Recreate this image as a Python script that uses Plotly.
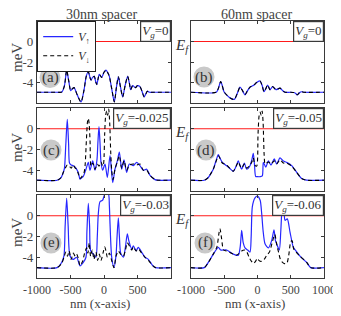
import plotly.graph_objects as go

W, H = 341, 316
BODY = 8  # default page margin of the HTML body: the figure starts 8px in from the window corner

# ---------------- data ----------------
x_ticks = [-1000, -500, 0, 500, 1000]
y_ticks = [-4, -2, 0]
col_titles = ["30nm spacer", "60nm spacer"]
panel_letters = ["(a)", "(b)", "(c)", "(d)", "(e)", "(f)"]
vg_labels = ["0", "0", "-0.025", "-0.05", "-0.03", "-0.06"]

a_x = [-1000, -700, -630, -590, -557, -525, -497, -470, -447, -400, -343, -300, -265, -234, -210, -194,
       -170, -145, -125, -109, -90, -70, -35, 0, 30, 60, 80, 115, 154, 185, 214, 245, 279, 315, 353,
       380, 398, 428, 470, 500, 537, 570, 597, 625, 647, 680, 750, 1000]
a_up = [-4.95, -4.95, -4.93, -4.3, -2.8, -3.9, -4.8, -4.6, -4.5, -5.2, -5.9, -4.8, -3.4, -2.95, -3.5,
        -3.76, -3.5, -3.4, -3.9, -4.2, -3.7, -3.2, -3.5, -3.0, -2.8, -3.1, -3.4, -4.6, -5.9, -4.5,
        -3.45, -4.4, -5.4, -4.3, -3.4, -4.1, -4.7, -4.3, -4.5, -4.3, -4.4, -4.9, -5.4, -5.1, -4.85,
        -4.95, -4.95, -4.95]
a_dn = a_up

b_x = [-1000, -620, -590, -554, -530, -504, -450, -400, -349, -300, -263, -225, -188, -150, -113, -53,
       -23, 38, 70, 98, 125, 153, 188, 228, 278, 338, 380, 414, 500, 560, 599, 630, 664, 700, 1000]
b_up = [-4.95, -4.95, -4.6, -3.9, -4.3, -4.9, -5.3, -5.55, -5.65, -5.0, -4.45, -4.8, -5.2, -4.8, -4.45,
        -4.25, -4.05, -3.85, -4.3, -4.9, -4.6, -4.25, -4.7, -4.4, -4.7, -4.55, -4.8, -4.95, -4.95,
        -5.0, -5.2, -5.0, -4.9, -4.95, -4.95]
b_dn = b_up

c_up_x = [-1000, -700, -640, -607, -590, -570, -548, -528, -515, -490, -458, -430, -408, -380, -358,
          -330, -309, -269, -234, -209, -169, -134, -105, -90, -75, -60, -45, -20, 15, 50, 90, 130,
          164, 199, 229, 264, 299, 338, 378, 438, 488, 537, 587, 637, 687, 761, 800, 1000]
c_up = [-4.96, -4.96, -4.7, -4.2, -3.8, -1.5, 0.9, -1.5, -3.3, -3.5, -3.56, -3.7, -3.9, -4.3, -4.86,
        -4.7, -4.6, -3.9, -3.24, -4.0, -3.1, -4.0, -3.0, -1.2, 0.2, -1.3, -3.2, -4.0, -3.4, -4.7,
        -2.6, -5.2, -3.9, -3.1, -2.26, -3.9, -3.0, -4.2, -3.4, -3.56, -3.24, -3.56, -4.0, -3.9,
        -4.5, -4.9, -4.96, -4.96]
c_dn_x = [-1000, -700, -640, -607, -570, -548, -518, -490, -458, -430, -408, -380, -358, -330, -300,
          -283, -262, -246, -234, -222, -208, -195, -169, -134, -100, -75, -45, -20, -5, 10, 25, 40,
          55, 70, 85, 100, 115, 135, 164, 199, 229, 264, 299, 338, 378, 438, 488, 537, 587, 637, 687,
          761, 800, 1000]
c_dn = [-4.96, -4.96, -4.7, -4.2, -3.7, -3.5, -3.6, -3.8, -3.5, -3.8, -3.9, -4.4, -4.8, -4.6, -4.3,
        -3.6, -1.0, 0.7, 1.0, 0.5, -1.2, -3.6, -3.3, -3.9, -3.4, -3.6, -3.2, -3.6, -3.3, -0.5, 1.3,
        1.7, 1.3, 1.9, 0.6, -2.2, -4.0, -4.9, -3.9, -3.2, -2.6, -3.8, -3.1, -4.0, -3.5, -3.4, -3.5,
        -3.4, -4.0, -4.0, -4.5, -4.9, -4.96, -4.96]

d_up_x = [-1000, -800, -740, -700, -665, -620, -589, -560, -529, -464, -420, -364, -320, -289, -260,
          -238, -198, -163, -113, -85, -63, -45, -27, 0, 40, 72, 88, 125, 163, 203, 253, 288, 338,
          388, 438, 514, 589, 664, 740, 1000]
d_up = [-4.96, -4.96, -4.7, -4.3, -3.9, -3.0, -2.5, -2.9, -3.24, -3.56, -3.8, -4.1, -3.6, -3.1, -3.6,
        -3.9, -3.3, -3.9, -3.56, -3.0, -2.36, -3.5, -4.6, -4.62, -4.62, -4.55, -3.24, -3.7, -3.1,
        -3.5, -2.9, -3.4, -2.8, -3.1, -3.24, -3.56, -4.2, -4.8, -4.96, -4.96]
d_dn_x = [-1000, -800, -740, -700, -665, -620, -589, -560, -529, -464, -420, -364, -320, -289, -260,
          -238, -198, -163, -113, -85, -63, -40, -12, 8, 25, 40, 55, 70, 85, 100, 115, 163, 203, 253,
          288, 338, 388, 438, 514, 589, 664, 740, 1000]
d_dn = [-4.96, -4.96, -4.7, -4.3, -3.9, -3.1, -2.6, -2.9, -3.3, -3.5, -3.8, -4.1, -3.6, -3.2, -3.6,
        -3.8, -3.4, -3.8, -3.5, -3.2, -2.8, -3.5, -3.6, -0.5, 1.3, 1.6, 1.3, 1.7, 0.5, -2.5, -3.4,
        -3.2, -3.4, -3.1, -3.4, -3.0, -3.3, -3.3, -3.6, -4.2, -4.8, -4.96, -4.96]

e_up_x = [-1000, -700, -632, -597, -580, -557, -535, -508, -458, -408, -358, -309, -269, -255, -234,
          -215, -199, -159, -120, -100, -85, -60, -20, 15, 65, 80, 90, 115, 149, 179, 195, 214, 230,
          249, 290, 320, 348, 370, 413, 438, 478, 512, 562, 612, 662, 727, 770, 1000]
e_up = [-5.0, -5.0, -4.5, -3.85, -1.0, 1.68, -1.0, -3.85, -4.2, -4.0, -4.83, -4.5, -4.0, -1.5, 1.19,
        -1.0, -3.37, -3.7, -4.0, -2.0, 0.2, 1.35, 1.5, 2.1, 2.1, 1.0, -0.8, -4.0, -5.0, -3.85, -2.0,
        -0.2, -2.0, -3.6, -4.0, -3.0, -1.74, -2.4, -3.2, -2.9, -3.37, -3.05, -3.5, -4.0, -4.2, -4.8,
        -5.0, -5.0]
e_dn_x = [-1000, -700, -632, -597, -570, -545, -520, -490, -458, -430, -408, -380, -358, -320, -290,
          -260, -240, -220, -200, -175, -150, -120, -95, -70, -45, -15, 10, 30, 50, 80, 110, 149, 179,
          214, 249, 290, 320, 348, 370, 413, 438, 478, 512, 562, 612, 662, 727, 770, 1000]
e_dn = [-5.0, -5.0, -4.6, -4.0, -3.5, -3.9, -3.4, -4.2, -3.6, -3.9, -3.7, -4.2, -4.8, -4.4, -3.6,
        -3.1, -3.6, -2.6, -3.9, -3.3, -4.2, -3.5, -4.3, -3.7, -4.3, -3.6, -3.0, -3.4, -4.0, -3.6,
        -4.2, -5.0, -3.9, -3.4, -3.7, -3.9, -3.3, -2.6, -2.8, -3.3, -3.0, -3.4, -3.2, -3.6, -4.0,
        -4.3, -4.8, -5.0, -5.0]

f_up_x = [-1000, -800, -740, -665, -589, -554, -464, -364, -289, -260, -238, -215, -188, -148, -113,
          -95, -78, -40, 0, 40, 63, 85, 113, 163, 213, 248, 270, 288, 328, 350, 379, 400, 414, 448,
          489, 539, 580, 639, 740, 800, 1000]
f_up = [-5.0, -5.0, -4.5, -3.7, -3.04, -3.3, -3.3, -3.7, -3.8, -3.0, -1.41, -2.6, -3.1, -3.3, -3.5,
        -2.0, 0.86, 1.7, 1.9, 1.5, 0.2, -1.5, -2.7, -3.1, -2.4, -1.35, -2.4, -2.7, -3.3, -1.5, 1.8,
        0.5, -0.44, -0.3, -1.58, -3.04, -3.4, -3.9, -4.5, -5.0, -5.0]
f_dn_x = [-1000, -800, -740, -665, -610, -580, -564, -540, -510, -464, -400, -364, -320, -289, -238,
          -200, -160, -120, -90, -60, -30, 0, 20, 60, 100, 140, 180, 220, 260, 290, 320, 350, 400,
          440, 470, 500, 520, 545, 580, 639, 740, 800, 1000]
f_dn = [-5.0, -5.0, -4.5, -3.7, -3.0, -1.7, -1.25, -2.2, -3.3, -3.4, -3.6, -3.7, -3.8, -3.7, -3.4,
        -3.3, -3.5, -4.1, -4.4, -4.6, -4.4, -4.1, -4.3, -4.4, -4.2, -3.8, -3.5, -2.6, -1.8, -2.8,
        -3.6, -4.3, -4.6, -4.6, -3.8, -2.5, -2.4, -3.2, -3.5, -3.9, -4.5, -5.0, -5.0]

panels = [
    (a_x, a_up, a_x, a_dn),
    (b_x, b_up, b_x, b_dn),
    (c_up_x, c_up, c_dn_x, c_dn),
    (d_up_x, d_up, d_dn_x, d_dn),
    (e_up_x, e_up, e_dn_x, e_dn),
    (f_up_x, f_up, f_dn_x, f_dn),
]

# ---------------- layout geometry (window pixels) ----------------
cols = [(37, 171), (191, 324)]
rows = [(21, 103), (108, 191), (195, 278)]
circle_centers = [(50, 77.5), (204, 77), (51, 150), (206, 150), (51, 243), (205, 243)]
circle_r = 10.5

FW, FH = W - BODY, H - BODY

SERIF = "Liberation Serif, DejaVu Serif, serif"
BLUE = "#2626ff"
FRAME = "#3a3a3a"

def fx(px):
    return (px - BODY) / FW

def fy(py):
    return 1 - (py - BODY) / FH

fig = go.Figure()
annotations = []
shapes = []

for i, (ux, uy, dx, dy) in enumerate(panels):
    n = i + 1
    r, c = divmod(i, 2)
    xs = "" if n == 1 else str(n)
    xa, ya = "x" + xs, "y" + xs
    fig.add_trace(go.Scatter(x=[-1000, 1000], y=[0, 0], mode="lines",
                             line=dict(color="#ff1a1a", width=1.2), showlegend=False,
                             xaxis=xa, yaxis=ya, hoverinfo="skip"))
    fig.add_trace(go.Scatter(x=ux, y=uy, mode="lines", name="<i>V</i><sub>↑</sub>",
                             line=dict(color=BLUE, width=1.2, shape="spline", smoothing=0.7),
                             showlegend=(n == 1), xaxis=xa, yaxis=ya))
    fig.add_trace(go.Scatter(x=dx, y=dy, mode="lines", name="<i>V</i><sub>↓</sub>",
                             line=dict(color="black", width=1.1, dash="4px,3px",
                                       shape="spline", smoothing=0.7),
                             showlegend=(n == 1), xaxis=xa, yaxis=ya))

    x0p, x1p = cols[c]
    y0p, y1p = rows[r]
    ttext = ["-1000", "-500", "0", "500", "1000" if c == 1 else ""]
    fig.layout["xaxis" + xs] = dict(
        domain=[fx(x0p), fx(x1p)], range=[-1000, 1000], anchor=ya, automargin=False,
        tickvals=x_ticks, ticktext=ttext, showticklabels=(r == 2),
        ticks="inside", ticklen=3, tickcolor=FRAME, showline=True, linecolor=FRAME,
        linewidth=1.2, mirror="ticks", showgrid=False, zeroline=False,
        tickfont=dict(family=SERIF, size=12, color="#444"))
    fig.layout["yaxis" + xs] = dict(
        domain=[fy(y1p), fy(y0p)], range=[-6, 2], anchor=xa, automargin=False,
        tickvals=y_ticks, ticktext=["-4", "-2", "0"], showticklabels=(c == 0),
        ticks="inside", ticklen=3, tickcolor=FRAME, showline=True, linecolor=FRAME,
        linewidth=1.2, mirror="ticks", showgrid=False, zeroline=False,
        tickfont=dict(family=SERIF, size=13, color="#444"))

    # circled letter
    cx, cy = circle_centers[i]
    pw, ph = x1p - x0p, y1p - y0p
    shapes.append(dict(type="circle", xref=xa + " domain", yref=ya + " domain", layer="below",
                       x0=(cx - circle_r - x0p) / pw, x1=(cx + circle_r - x0p) / pw,
                       y0=(y1p - cy - circle_r) / ph, y1=(y1p - cy + circle_r) / ph,
                       fillcolor="#c9c9c9", line=dict(width=0)))
    annotations.append(dict(xref=xa + " domain", yref=ya + " domain",
                            x=(cx - x0p) / pw, y=(y1p - cy) / ph, text=panel_letters[i],
                            xanchor="center", yanchor="middle",
                            showarrow=False, font=dict(family=SERIF, size=15, color="#333")))
    # Vg box
    annotations.append(dict(xref=xa + " domain", yref=ya + " domain", x=1, y=1,
                            xanchor="right", yanchor="top",
                            text="<i>V<sub>g</sub></i>=" + vg_labels[i], showarrow=False,
                            bgcolor="white", bordercolor=FRAME, borderwidth=1.2, borderpad=1,
                            font=dict(family=SERIF, size=13, color="#333")))
    # E_f label in right column
    if c == 1:
        annotations.append(dict(xref="paper", yref=ya, x=fx(182), y=0, yshift=-4,
                                xanchor="center", yanchor="middle",
                                text="<i>E<sub>f</sub></i>", showarrow=False,
                                font=dict(family=SERIF, size=15, color="#333")))
    # meV label in left column
    if c == 0:
        mev_y = [58, 148, 233][r]
        annotations.append(dict(xref="paper", yref="paper", x=fx(17), y=fy(mev_y),
                                xanchor="center", yanchor="middle",
                                text="meV", textangle=-90, showarrow=False,
                                font=dict(family=SERIF, size=15, color="#444")))

# column titles and x-axis titles
for c, (x0p, x1p) in enumerate(cols):
    annotations.append(dict(xref="paper", yref="paper", x=fx([101.5, 256][c]), y=fy(15),
                            xanchor="center", yanchor="middle",
                            text=col_titles[c], showarrow=False,
                            font=dict(family=SERIF, size=14, color="#444")))
    annotations.append(dict(xref="paper", yref="paper", x=fx([100, 255][c]), y=fy(303.5),
                            xanchor="center", yanchor="middle",
                            text="nm (x-axis)", showarrow=False,
                            font=dict(family=SERIF, size=13, color="#444")))

fig.update_layout(
    width=FW, height=FH, margin=dict(l=0, r=0, t=0, b=0, autoexpand=False),
    paper_bgcolor="white", plot_bgcolor="white",
    annotations=annotations, shapes=shapes,
    legend=dict(x=fx(37), y=fy(21), xanchor="left", yanchor="top", bgcolor="white",
                bordercolor="#222", borderwidth=1.2, tracegroupgap=0,
                font=dict(family=SERIF, size=12, color="#333"),
                itemwidth=30),
    showlegend=True,
)

fig.write_html("out.html")
